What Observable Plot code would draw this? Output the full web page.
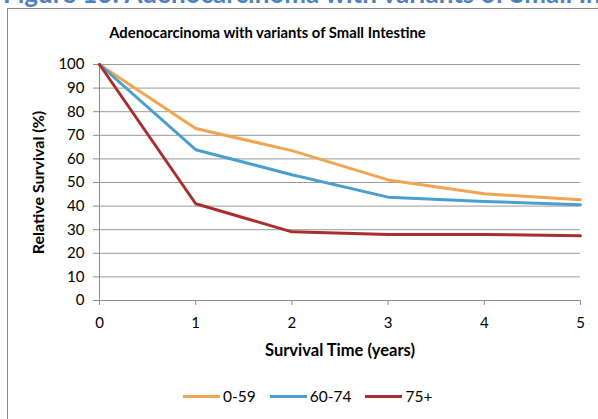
<!DOCTYPE html>
<html>
<head>
<meta charset="utf-8">
<script src="https://cdn.jsdelivr.net/npm/d3@7"></script>
<script src="https://cdn.jsdelivr.net/npm/@observablehq/plot@0.6"></script>
<style>
  body { margin: 0; background: #fff; }
  #wrap { position: relative; width: 598px; height: 419px; overflow: hidden; font-family: Lato, "Open Sans", sans-serif; color: #000; }
  #fig { position: absolute; left: 3px; top: -23px; font-size: 26px; font-weight: bold; color: #4f81bd; white-space: nowrap; }
  #frame { position: absolute; left: 7px; top: 8px; width: 700px; height: 500px; border-left: 1px solid #8c8c8c; border-top: 1px solid #8c8c8c; }
  #title { position: absolute; left: 0; width: 535px; top: 23px; text-align: center; font-weight: bold; font-size: 14.8px; }
  #chart { position: absolute; left: 0; top: 44px; }
  #legend { position: absolute; top: 387px; left: 183px; display: flex; align-items: center; font-size: 15.5px; white-space: nowrap; }
  #legend .item { display: flex; align-items: center; margin-right: 14px; }
  #legend .sw { display: inline-block; width: 37px; height: 3px; margin-right: 3px; }
</style>
</head>
<body>
<div id="wrap">
  <div id="fig">Figure 10: Adenocarcinoma with variants of Small Intestine</div>
  <div id="frame"></div>
  <div id="title">Adenocarcinoma with variants of Small Intestine</div>
  <div id="chart"></div>
  <div id="legend"></div>
</div>
<script>
// Relative survival by age group, years 0–5 after diagnosis
const years = [0, 1, 2, 3, 4, 5];
const age0to59 = [100, 72.9, 63.5, 51.1, 45.2, 42.7];
const age60to74 = [100, 63.9, 53.3, 43.8, 42.0, 40.6];
const age75plus = [100, 41.0, 29.1, 28.0, 28.0, 27.4];

const seriesNames = ["0-59", "60-74", "75+"];
const seriesColors = ["#f0a650", "#4b9fcf", "#a82f2f"];
const yTicks = [0, 10, 20, 30, 40, 50, 60, 70, 80, 90, 100];
const xLabel = "Survival Time (years)";
const yLabel = "Relative Survival (%)";

const rows = [];
[age0to59, age60to74, age75plus].forEach((vals, i) => {
  vals.forEach((v, j) => rows.push({ group: seriesNames[i], year: years[j], value: v }));
});

const chart = Plot.plot({
  width: 598,
  height: 330,
  marginLeft: 99,
  marginRight: 18,
  marginTop: 20,
  marginBottom: 74,
  style: { fontFamily: "Lato, 'Open Sans', sans-serif", fontSize: "15px", color: "#000", background: "transparent" },
  x: { domain: [0, 5], label: null },
  y: { domain: [0, 100], label: null },
  color: { domain: seriesNames, range: seriesColors },
  marks: [
    Plot.ruleY(yTicks.slice(1), { stroke: "#9a9a9a", strokeWidth: 1 }),
    Plot.axisX({ ticks: years, tickFormat: d3.format("d"), tickSize: 5, tickPadding: 12, stroke: "#8c8c8c", label: null }),
    Plot.axisY({ ticks: yTicks, tickSize: 6, tickPadding: 9, stroke: "#8c8c8c", label: null }),
    Plot.ruleY([0], { stroke: "#8c8c8c" }),
    Plot.ruleX([0], { stroke: "#8c8c8c" }),
    Plot.line(rows, { x: "year", y: "value", z: "group", stroke: "group", strokeWidth: 3, strokeLinejoin: "round" }),
    Plot.text([xLabel], { frameAnchor: "bottom", dy: 55, fontWeight: "bold", fontSize: 16.5 }),
    Plot.text([yLabel], { frameAnchor: "left", dx: -61, rotate: -90, textAnchor: "middle", fontWeight: "bold", fontSize: 16 })
  ]
});
document.getElementById("chart").appendChild(chart);

// Legend beneath the plot
const legend = d3.select("#legend");
seriesNames.forEach((name, i) => {
  const item = legend.append("div").attr("class", "item");
  item.append("span").attr("class", "sw").style("background", seriesColors[i]);
  item.append("span").text(name);
});
</script>
</body>
</html>
